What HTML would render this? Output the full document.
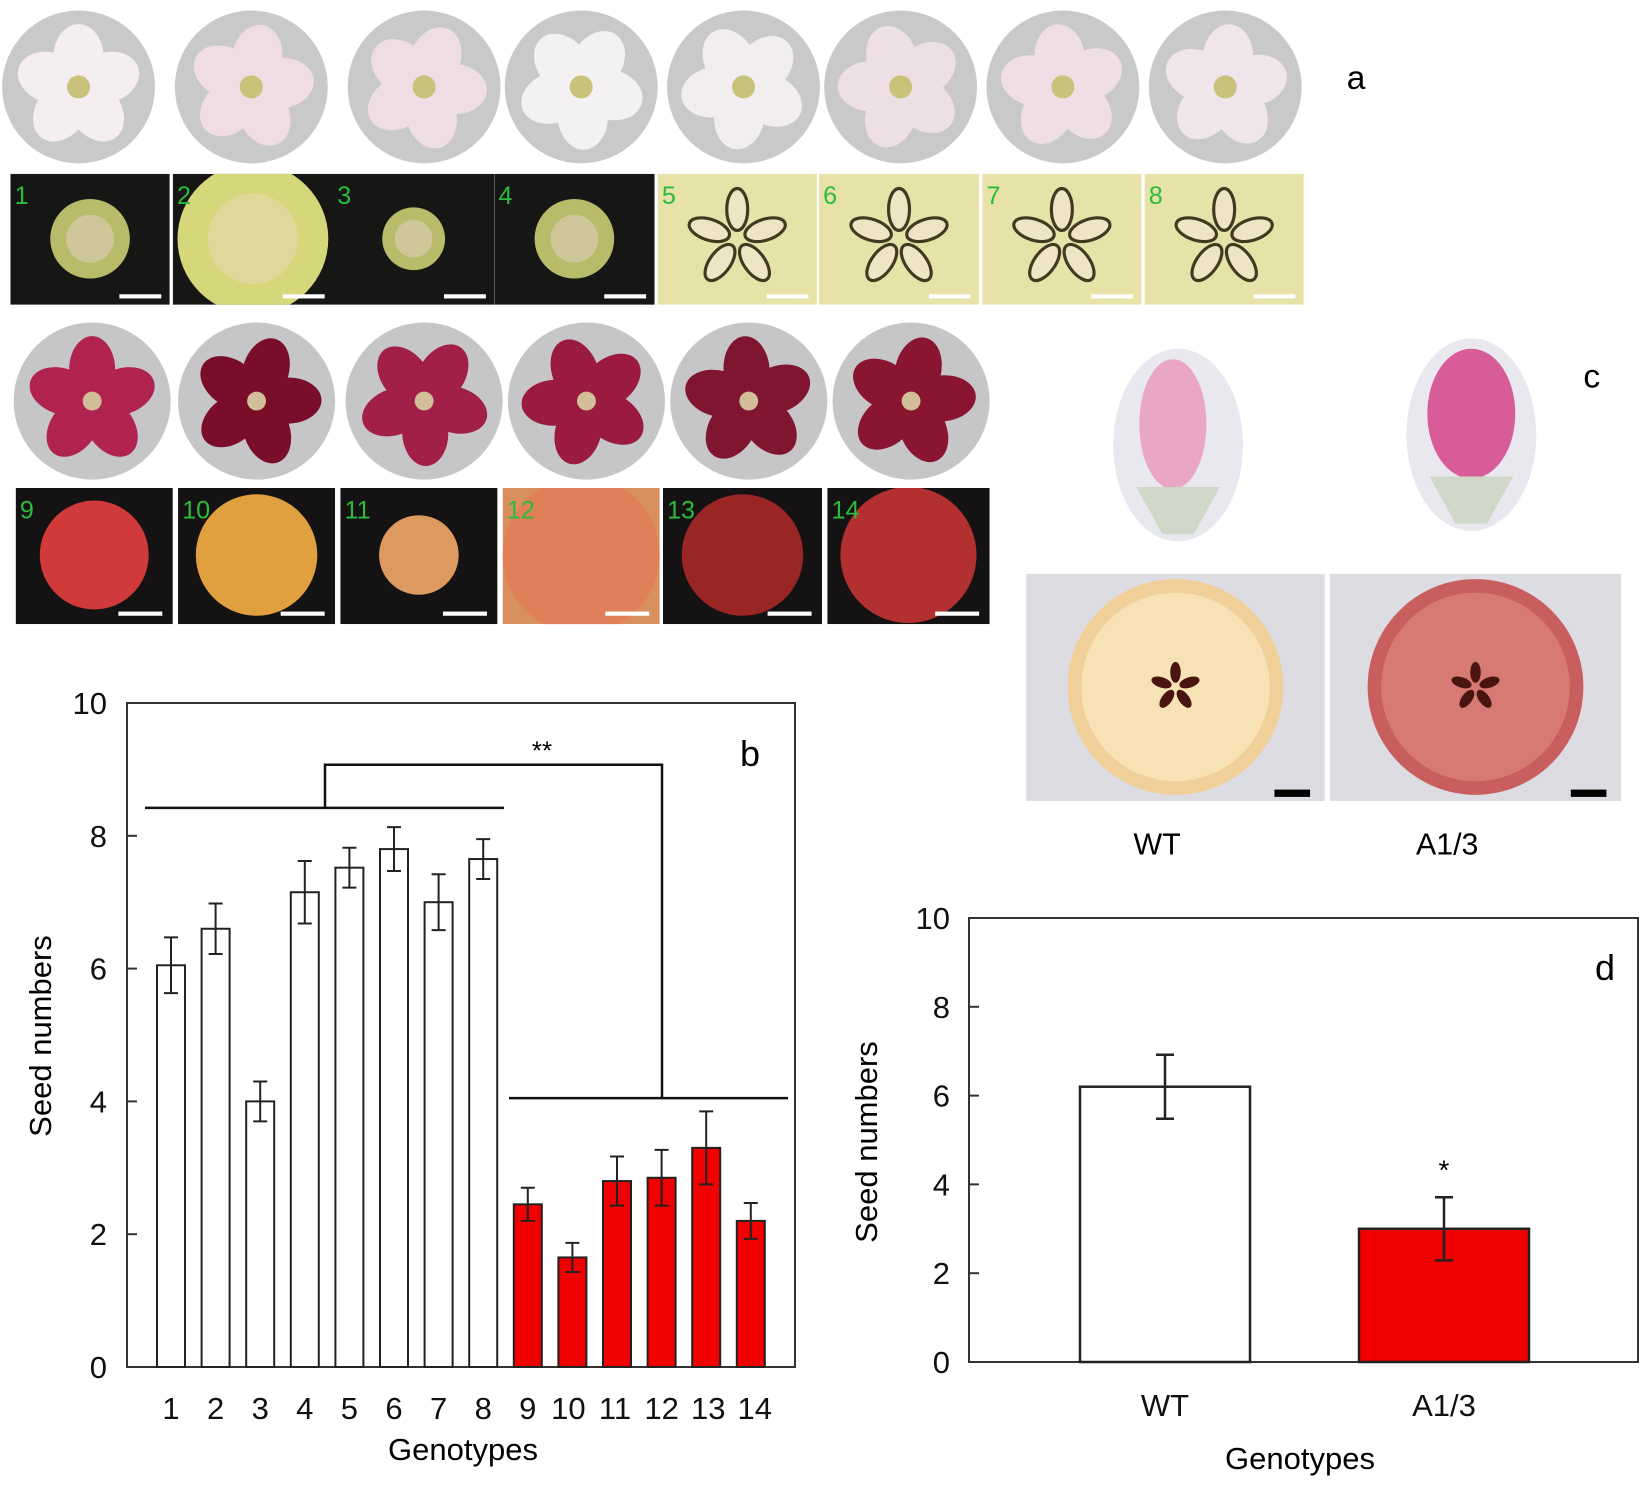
<!DOCTYPE html>
<html><head><meta charset="utf-8"><style>
html,body{margin:0;padding:0;background:#fff}
svg{display:block}
text{font-family:"Liberation Sans",Arial,sans-serif}
</style></head><body>
<svg id="fig" width="1642" height="1490" viewBox="0 0 1642 1490" xmlns="http://www.w3.org/2000/svg">
<defs id="defs"></defs>
<g id="photos" transform="scale(1.0472)"></g>
<g id="chartB"></g>
<g id="chartD"></g>
</svg>
<script>
// Chart b data
const bCategories = ["1","2","3","4","5","6","7","8","9","10","11","12","13","14"];
const bValues = [6.05,6.6,4.0,7.15,7.52,7.8,7.0,7.65,2.45,1.65,2.8,2.85,3.3,2.2];
const bErrors = [0.42,0.38,0.3,0.47,0.3,0.33,0.42,0.3,0.25,0.22,0.37,0.42,0.55,0.27];
const bTicks = [0,2,4,6,8,10];
// Chart d data
const dCategories = ["WT","A1/3"];
const dValues = [6.2,3.0];
const dErrors = [0.72,0.71];
const dTicks = [0,2,4,6,8,10];

const NS="http://www.w3.org/2000/svg";
function mk(parent,tag,attrs,txt){const e=document.createElementNS(NS,tag);for(const k in attrs)e.setAttribute(k,attrs[k]);if(txt!==undefined)e.textContent=txt;parent.appendChild(e);return e;}
const DEFS=document.getElementById('defs');
let clipN=0;
function clipRect(x,y,w,h){const id='c'+(clipN++);const c=mk(DEFS,'clipPath',{id:id});mk(c,'rect',{x:x,y:y,width:w,height:h});return 'url(#'+id+')';}

// ---------- photo panels ----------
const P=document.getElementById('photos');
const topFlowers=[75,240,405,555,710,860,1015,1170];
const topPinks=['#f4eef0','#f0dde3','#eedde3','#f3f1f1','#f2eeef','#eedfe5','#efdfe4','#efe5ea'];
topFlowers.forEach((cx,i)=>{
  const g=mk(P,'g',{});
  
  
  mk(g,'circle',{cx:cx,cy:83,r:73,fill:'#c9c9cb'});
  for(let k=0;k<5;k++){const a=k*72+i*11;mk(g,'ellipse',{cx:cx,cy:83-28,rx:24,ry:32,fill:topPinks[i],transform:`rotate(${a} ${cx} 83)`});}
  mk(g,'circle',{cx:cx,cy:83,r:11,fill:'#c8c27a'});
});
const topBoxes=[[10,162],[165,318],[318,472],[472,625],[628,780],[782,935],[938,1090],[1093,1245]];
topBoxes.forEach((b,i)=>{
  const g=mk(P,'g',{});
  
  
  const w=b[1]-b[0],cx=(b[0]+b[1])/2;
  g.setAttribute('clip-path',clipRect(b[0],166,w,125));
  if(i<4){
    mk(g,'rect',{x:b[0],y:166,width:w,height:125,fill:'#161614'});
    const r=[38,72,30,38][i];
    mk(g,'circle',{cx:cx,cy:228,r:r,fill:i==1?'#d6d67a':'#b8bb6a'});
    mk(g,'circle',{cx:cx,cy:228,r:r*0.6,fill:i==1?'#e0d89a':'#cfc79a'});
  } else {
    mk(g,'rect',{x:b[0],y:166,width:w,height:125,fill:'#e6e2a8'});
    for(let k=0;k<5;k++){mk(g,'ellipse',{cx:cx,cy:228-28,rx:10,ry:20,fill:'#efe4c4',stroke:'#403a20','stroke-width':3,transform:`rotate(${k*72} ${cx} 228)`});}
  }
  mk(g,'rect',{x:b[1]-48,y:281,width:40,height:4,fill:'#fff'});
  mk(g,'text',{x:b[0]+4,y:195,'font-size':24,fill:'#2dbb3b'},String(i+1));
});
const botFlowers=[88,245,405,560,715,870];
const botCols=['#b0234f','#7a0e2a','#a21f47','#9a1a40','#80152f','#8a1530'];
botFlowers.forEach((cx,i)=>{
  const g=mk(P,'g',{});
  
  
  mk(g,'circle',{cx:cx,cy:383,r:75,fill:'#c6c6c8'});
  for(let k=0;k<5;k++){mk(g,'ellipse',{cx:cx,cy:383-30,rx:22,ry:32,fill:botCols[i],transform:`rotate(${k*72+i*17} ${cx} 383)`});}
  mk(g,'circle',{cx:cx,cy:383,r:9,fill:'#d2bf9a'});
});
const botBoxes=[[15,165],[170,320],[325,475],[480,630],[633,785],[790,945]];
const fruitCols=['#d03a3a','#e0a040','#dc9a60','#e0805a','#9a2525','#b23030'];
const fruitR=[52,58,38,75,58,65];
botBoxes.forEach((b,i)=>{
  const g=mk(P,'g',{});
  
  
  const w=b[1]-b[0],cx=(b[0]+b[1])/2;
  g.setAttribute('clip-path',clipRect(b[0],466,w,130));
  mk(g,'rect',{x:b[0],y:466,width:w,height:130,fill:i==3?'#d89060':'#141212'});
  mk(g,'circle',{cx:cx,cy:530,r:fruitR[i],fill:fruitCols[i]});
  mk(g,'rect',{x:b[1]-52,y:584,width:42,height:4,fill:'#fff'});
  mk(g,'text',{x:b[0]+4,y:495,'font-size':24,fill:'#2dbb3b'},String(i+9));
});
// panel c
[[1125,425,'#eaa7c5'],[1405,415,'#d75c98']].forEach((o,i)=>{
  const g=mk(P,'g',{});
  
  
  mk(g,'ellipse',{cx:o[0],cy:o[1],rx:62,ry:92,fill:'#e8e8ee'});
  mk(g,'ellipse',{cx:o[0]+(i?0:-5),cy:o[1]-20,rx:i?42:32,ry:62,fill:o[2]});
  mk(g,'path',{d:`M${o[0]-40},${o[1]+40} L${o[0]+40},${o[1]+40} L${o[0]+15},${o[1]+85} L${o[0]-15},${o[1]+85}Z`,fill:'#cfd8c8'});
});
[[980,1265,'#f0cf98','#f6e2b4'],[1270,1548,'#c85e5e','#d87a74']].forEach((o,i)=>{
  const g=mk(P,'g',{});
  
  
  const cx=(o[0]+o[1])/2;
  mk(g,'rect',{x:o[0],y:548,width:o[1]-o[0],height:217,fill:'#dcdce2'});
  mk(g,'circle',{cx:cx,cy:656,r:103,fill:o[2]});
  mk(g,'circle',{cx:cx,cy:656,r:90,fill:o[3]});
  for(let k=0;k<5;k++){mk(g,'ellipse',{cx:cx,cy:656-14,rx:5,ry:10,fill:'#4a1410',transform:`rotate(${k*72} ${cx} 656)`});}
  mk(g,'rect',{x:o[1]-48,y:754,width:34,height:7,fill:'#000'});
});
let t;
t=mk(P,'text',{x:1105,y:816,'font-size':29,'text-anchor':'middle'},'WT');
t=mk(P,'text',{x:1382,y:816,'font-size':29,'text-anchor':'middle'},'A1/3');
t=mk(P,'text',{x:1295,y:85,'font-size':32,'text-anchor':'middle'},'a');
t=mk(P,'text',{x:1520,y:370,'font-size':32,'text-anchor':'middle'},'c');

// ---------- chart b ----------
const B=document.getElementById('chartB');
const bL=127,bR=795,bT=703,bBot=1367;
const byS=v=>bBot-(bBot-bT)*v/10;
const bxS=i=>171+i*44.6;
const bw=28;
mk(B,'rect',{x:bL,y:bT,width:bR-bL,height:bBot-bT,fill:'none',stroke:'#333','stroke-width':2});
bTicks.forEach(v=>{
  const l=mk(B,'line',{x1:bL,x2:bL+10,y1:byS(v),y2:byS(v),stroke:'#333','stroke-width':2});
  
  
  const tx=mk(B,'text',{x:107,y:byS(v)+11,'font-size':31,'text-anchor':'end',fill:'#111'},String(v));
  
  
});
bValues.forEach((v,i)=>{
  const x=bxS(i),red=i>=8;
  const r=mk(B,'rect',{x:x-bw/2,y:byS(v),width:bw,height:bBot-byS(v),fill:red?'#f00000':'#fff',stroke:'#222','stroke-width':2});
  
  
  const e=bErrors[i];
  const p=mk(B,'path',{d:`M${x},${byS(v+e)}V${byS(v-e)}M${x-7},${byS(v+e)}h14M${x-7},${byS(v-e)}h14`,stroke:'#222','stroke-width':2,fill:'none'});
  
  
  const tx=mk(B,'text',{x:x+(i>=9?(i-11)*2:0),y:1419,'font-size':31,'text-anchor':'middle',fill:'#111'},bCategories[i]);
  
  
});
const br=mk(B,'path',{d:`M145,${byS(8.42)}H504M509,${byS(4.05)}H788M325,${byS(8.42)}V${byS(9.07)}H662V${byS(4.05)}`,stroke:'#111','stroke-width':2.5,fill:'none'});


t=mk(B,'text',{x:542,y:byS(9.15),'font-size':26,'text-anchor':'middle'},'**');
t=mk(B,'text',{x:750,y:766,'font-size':36,'text-anchor':'middle'},'b');
t=mk(B,'text',{x:463,y:1460,'font-size':31,'text-anchor':'middle'},'Genotypes');
t=mk(B,'text',{x:51,y:1036,'font-size':31,'text-anchor':'middle',transform:'rotate(-90 51 1036)'},'Seed numbers');

// ---------- chart d ----------
const D=document.getElementById('chartD');
const dL=969,dR=1638,dT=918,dBot=1362;
const dyS=v=>dBot-(dBot-dT)*v/10;
const dCenters=[1165,1444];
const dw=170;
mk(D,'rect',{x:dL,y:dT,width:dR-dL,height:dBot-dT,fill:'none',stroke:'#333','stroke-width':2});
dTicks.forEach(v=>{
  const l=mk(D,'line',{x1:dL,x2:dL+10,y1:dyS(v),y2:dyS(v),stroke:'#333','stroke-width':2});
  
  
  const tx=mk(D,'text',{x:950,y:dyS(v)+11,'font-size':31,'text-anchor':'end',fill:'#111'},String(v));
  
  
});
dValues.forEach((v,i)=>{
  const x=dCenters[i];
  const r=mk(D,'rect',{x:x-dw/2,y:dyS(v),width:dw,height:dBot-dyS(v),fill:i?'#f00000':'#fff',stroke:'#222','stroke-width':2.5});
  
  
  const e=dErrors[i];
  const p=mk(D,'path',{d:`M${x},${dyS(v+e)}V${dyS(v-e)}M${x-9},${dyS(v+e)}h18M${x-9},${dyS(v-e)}h18`,stroke:'#222','stroke-width':2.5,fill:'none'});
  
  
  const tx=mk(D,'text',{x:x,y:1416,'font-size':31,'text-anchor':'middle',fill:'#111'},dCategories[i]);
  
  
});
t=mk(D,'text',{x:dCenters[1],y:dyS(dValues[1]+dErrors[1])-18,'font-size':28,'text-anchor':'middle'},'*');
t=mk(D,'text',{x:1605,y:980,'font-size':36,'text-anchor':'middle'},'d');
t=mk(D,'text',{x:1300,y:1469,'font-size':31,'text-anchor':'middle'},'Genotypes');
t=mk(D,'text',{x:877,y:1142,'font-size':31,'text-anchor':'middle',transform:'rotate(-90 877 1142)'},'Seed numbers');
</script>
</body></html>
